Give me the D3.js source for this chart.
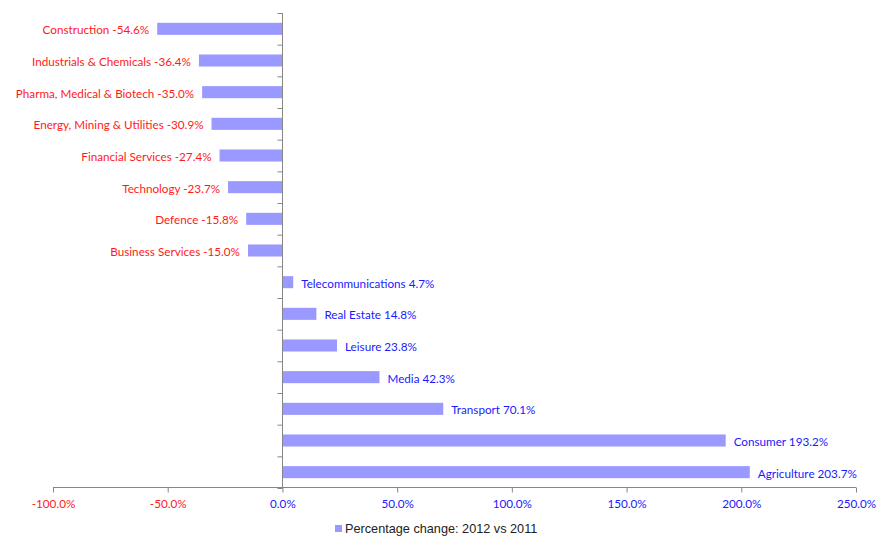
<!DOCTYPE html>
<html>
<head>
<meta charset="utf-8">
<script src="https://cdn.jsdelivr.net/npm/d3@7"></script>
<style>
  body { margin: 0; background: #fff; }
  .lbl { font-family: Lato, "Open Sans", sans-serif; font-size: 11.7px; }
</style>
</head>
<body>
<div id="chart"></div>
<script>
// sectors, top to bottom
var sectors = ['Construction', 'Industrials & Chemicals', 'Pharma, Medical & Biotech',
  'Energy, Mining & Utilities', 'Financial Services', 'Technology', 'Defence',
  'Business Services', 'Telecommunications', 'Real Estate', 'Leisure', 'Media',
  'Transport', 'Consumer', 'Agriculture'];
var changes = [-54.6, -36.4, -35.0, -30.9, -27.4, -23.7, -15.8, -15.0,
  4.7, 14.8, 23.8, 42.3, 70.1, 193.2, 203.7];
var xTicks = [-100, -50, 0, 50, 100, 150, 200, 250];
var seriesName = 'Percentage change: 2012 vs 2011';

var W = 876, H = 540;
var red = '#ff1a1a', blue = '#1a1aff', barFill = '#9999ff', axisCol = '#868686';

var svg = d3.select('#chart').append('svg')
  .attr('width', W).attr('height', H);

var plotTop = 13, plotBottom = 488;
var x = d3.scaleLinear().domain([-100, 250]).range([53, 856]);
var y = d3.scaleBand().domain(sectors).range([plotTop, plotBottom])
  .paddingInner(0.62).paddingOuter(0.31);
var yb = d3.scaleLinear().domain([0, sectors.length]).range([plotTop, plotBottom]);

// bars
svg.selectAll('rect.bar')
  .data(sectors)
  .enter().append('rect')
    .attr('class', 'bar')
    .attr('x', function(d, i) { return x(Math.min(0, changes[i])); })
    .attr('y', function(d) { return y(d); })
    .attr('width', function(d, i) { return Math.abs(x(changes[i]) - x(0)); })
    .attr('height', y.bandwidth())
    .attr('fill', barFill);

// bar labels
svg.selectAll('text.bar-lbl')
  .data(sectors)
  .enter().append('text')
    .attr('class', 'lbl')
    .attr('x', function(d, i) { return changes[i] < 0 ? x(changes[i]) - 8 : x(changes[i]) + 8; })
    .attr('y', function(d) { return y(d) + y.bandwidth() / 2 + 0.5; })
    .attr('dominant-baseline', 'central')
    .attr('text-anchor', function(d, i) { return changes[i] < 0 ? 'end' : 'start'; })
    .attr('fill', function(d, i) { return changes[i] < 0 ? red : blue; })
    .text(function(d, i) { return d + ' ' + changes[i].toFixed(1) + '%'; });

// vertical category axis at zero
var yAxis = svg.append('g')
  .attr('transform', 'translate(' + (Math.round(x(0)) + 0.5) + ',0)')
  .call(d3.axisLeft(yb).tickValues(d3.range(0, sectors.length + 1)).tickSize(5).tickFormat(''));
yAxis.selectAll('.domain').attr('d', 'M0,' + plotTop + 'V' + plotBottom).attr('stroke', axisCol);
yAxis.selectAll('line').attr('stroke', axisCol);

// horizontal value axis
var xAxis = svg.append('g')
  .attr('transform', 'translate(0,' + (plotBottom - 0.5) + ')')
  .call(d3.axisBottom(x).tickValues(xTicks).tickSize(5).tickPadding(7)
    .tickFormat(function(d) { return d.toFixed(1) + '%'; }));
xAxis.selectAll('.domain').attr('d', 'M' + x(-100) + ',0H' + x(250)).attr('stroke', axisCol);
xAxis.selectAll('line').attr('stroke', axisCol);
xAxis.selectAll('text')
  .attr('class', 'lbl')
  .attr('fill', function(d) { return d < 0 ? red : blue; });

// legend
var lg = svg.append('g').attr('transform', 'translate(335,525)');
lg.append('rect').attr('width', 7).attr('height', 7).attr('fill', barFill);
lg.append('text')
  .attr('x', 10).attr('y', 4)
  .attr('dominant-baseline', 'central')
  .style('font-family', '"Liberation Sans", Arial, sans-serif')
  .style('font-size', '12.7px')
  .attr('fill', '#222')
  .text(seriesName);
</script>
</body>
</html>
